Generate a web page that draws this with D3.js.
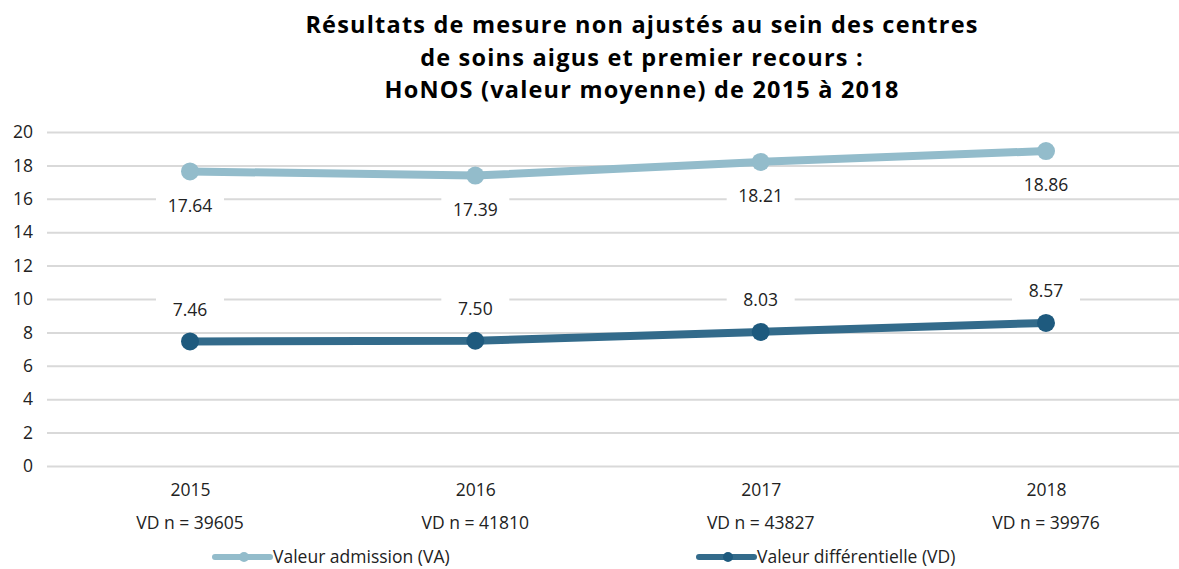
<!DOCTYPE html>
<html><head><meta charset="utf-8">
<script src="https://cdn.jsdelivr.net/npm/d3@7"></script>
<style>body{margin:0;background:#fff}svg{display:block}</style>
</head><body>
<svg id="c" width="1179" height="569"></svg>
<script>
const years = ["2015","2016","2017","2018"];
const nLabels = ["VD n = 39605","VD n = 41810","VD n = 43827","VD n = 39976"];
const valeurAdmission = [17.64, 17.39, 18.21, 18.86];
const valeurDifferentielle = [7.46, 7.50, 8.03, 8.57];
const yTicks = [0,2,4,6,8,10,12,14,16,18,20];
const titleLines = ["Résultats de mesure non ajustés au sein des centres","de soins aigus et premier recours :","HoNOS (valeur moyenne) de 2015 à 2018"];
const seriesNames = ["Valeur admission (VA)","Valeur différentielle (VD)"];

const FONT = "'Open Sans', 'Noto Sans', sans-serif";
const FS = 17.5;
const svg = d3.select("#c");
const x = d3.scalePoint().domain(years).range([190, 1046]);
const y = d3.scaleLinear().domain([0,20]).range([466,132]);

// title
svg.append("g").selectAll("text").data(titleLines).join("text")
  .attr("x", 642).attr("y", (d,i)=>33 + i*32.6)
  .attr("text-anchor","middle").attr("font-family",FONT).attr("font-weight","bold")
  .attr("font-size",23.5).attr("letter-spacing","1.2px").attr("fill","#000").text(d=>d);

// grid
const yAxis = d3.axisLeft(y).tickValues(yTicks).tickSize(-(1179-47)).tickPadding(14).tickFormat(d3.format("d"));
const gy = svg.append("g").attr("transform","translate(47,0)").call(yAxis);
gy.select(".domain").remove();
gy.selectAll(".tick line").attr("stroke","#d9d9d9").attr("stroke-width",2);
gy.selectAll(".tick text").attr("font-family",FONT).attr("font-size",FS).attr("fill","#222");

// x labels
const xAxis = d3.axisBottom(x).tickSize(0).tickPadding(12);
const gx = svg.append("g").attr("transform","translate(0,478)").call(xAxis);
gx.select(".domain").remove();
gx.selectAll(".tick text").attr("font-family",FONT).attr("font-size",FS).attr("fill","#222").attr("dy","0.32em").attr("y",12);
svg.append("g").selectAll("text").data(years).join("text")
  .attr("x", d=>x(d)).attr("y", 523).attr("dy","0.35em").attr("text-anchor","middle")
  .attr("font-family",FONT).attr("font-size",FS).attr("fill","#222").text((d,i)=>nLabels[i]);

const series = [
  {name: seriesNames[0], values: valeurAdmission, line:"#93bccb", dot:"#93bccb", off: 34},
  {name: seriesNames[1], values: valeurDifferentielle, line:"#336b8b", dot:"#1e5a7e", off: -32}
];
const line = d3.line().x((d,i)=>x(years[i])).y(d=>y(d));
series.forEach(s=>{
  svg.append("path").datum(s.values).attr("d", line).attr("fill","none")
    .attr("stroke", s.line).attr("stroke-width", 8).attr("stroke-linecap","round");
  svg.append("g").selectAll("circle").data(s.values).join("circle")
    .attr("cx",(d,i)=>x(years[i])).attr("cy",d=>y(d)).attr("r",9).attr("fill",s.dot);
  const lg = svg.append("g").selectAll("g").data(s.values).join("g")
    .attr("transform",(d,i)=>`translate(${x(years[i])},${y(d)+s.off})`);
  lg.append("rect").attr("x",-34).attr("y",-12).attr("width",68).attr("height",24).attr("fill","#fff");
  lg.append("text").attr("text-anchor","middle").attr("dy","0.35em")
    .attr("font-family",FONT).attr("font-size",FS).attr("fill","#222").text(d=>d.toFixed(2));
});

// legend
const legX = [215, 699];
series.forEach((s,i)=>{
  const g = svg.append("g").attr("transform",`translate(${legX[i]},557)`);
  g.append("line").attr("x1",0).attr("x2",55).attr("stroke",s.line).attr("stroke-width",6).attr("stroke-linecap","round");
  g.append("circle").attr("cx",29).attr("r",5).attr("fill",s.dot);
  g.append("text").attr("x",58).attr("dy","0.35em").attr("font-family",FONT).attr("font-size",FS).attr("fill","#222").text(s.name);
});
</script>
</body></html>
